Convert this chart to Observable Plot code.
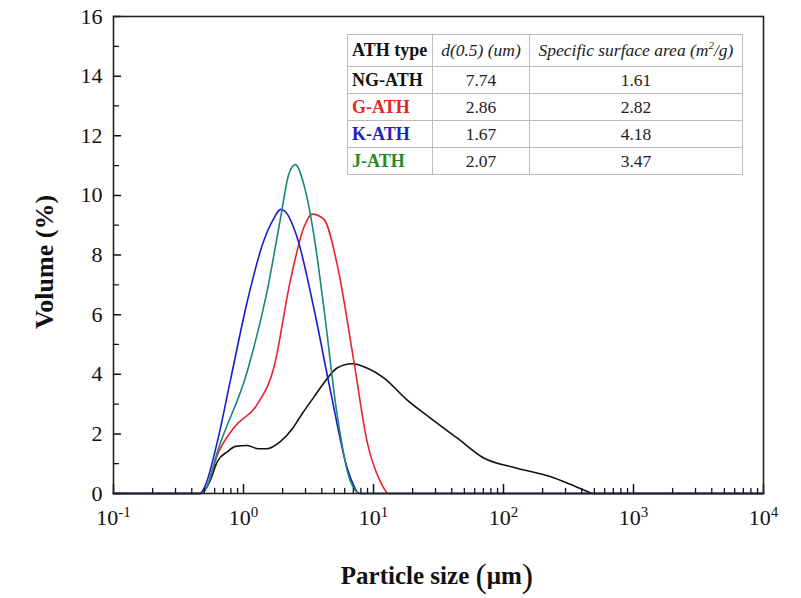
<!DOCTYPE html>
<html>
<head>
<meta charset="utf-8">
<script src="https://cdn.jsdelivr.net/npm/d3@7"></script>
<script src="https://cdn.jsdelivr.net/npm/@observablehq/plot@0.6"></script>
<style>
  html, body { margin: 0; padding: 0; background: #fff; }
  #wrap { position: relative; width: 801px; height: 598px; font-family: "Liberation Serif", "Times New Roman", serif; }
  #tbl { position: absolute; left: 347px; top: 34px; width: 396px; border-collapse: collapse; border: 1.2px solid #666; background: #fff; font-size: 17.5px; color: #222; table-layout: fixed; }
  #tbl td { border: 1px solid #bbb; text-align: center; padding: 0 3px; height: 26px; white-space: nowrap; overflow: visible; }
  #tbl td.name { text-align: left; padding-left: 4px; font-size: 18px; }
  #tbl tr.head td { height: 31px; }
</style>
</head>
<body>
<div id="wrap"></div>
<script>
// ---- data ----
const sizesNG = [0.1, 0.45, 0.48, 0.55, 0.63, 0.75, 0.87, 1.07, 1.3, 1.5, 1.93, 2.4, 2.85, 3.5, 4.14, 5.25, 6.86, 9, 12, 18, 27.4, 45, 70.5, 127, 229, 330, 414, 490, 10000];
const volNG   = [0, 0, 0.02, 0.4, 1.08, 1.4, 1.58, 1.61, 1.5, 1.5, 1.75, 2.2, 2.7, 3.25, 3.7, 4.21, 4.35, 4.2, 3.88, 3.15, 2.53, 1.83, 1.19, 0.85, 0.57, 0.3, 0.12, 0, 0];

const sizesG = [0.1, 0.47, 0.52, 0.63, 0.84, 1.27, 1.71, 2.29, 2.91, 3.37, 4.15, 5.25, 7.06, 8.92, 11.3, 13.1, 10000];
const volG   = [0, 0, 0.2, 1.3, 2.2, 2.98, 4.21, 7.13, 8.92, 9.37, 9.2, 7.69, 4.44, 1.75, 0.4, 0, 0];

const sizesK = [0.1, 0.46, 0.5, 0.63, 0.79, 1.07, 1.43, 1.7, 1.93, 2.1, 2.59, 3.47, 4.67, 6.28, 7.0, 7.5, 8, 10000];
const volK   = [0, 0, 0.2, 1.75, 3.76, 6.45, 8.47, 9.2, 9.53, 9.45, 8.58, 6.23, 3.43, 0.85, 0.3, 0.05, 0, 0];

const sizesJ = [0.1, 0.47, 0.52, 0.63, 1.07, 1.52, 1.93, 2.23, 2.51, 2.91, 3.47, 4.15, 5.25, 6.65, 7.94, 10000];
const volJ   = [0, 0, 0.2, 1.4, 4.1, 6.79, 9.25, 10.71, 11.03, 10.37, 8.7, 6.23, 2.65, 0.4, 0, 0];

const seriesNames  = ["NG-ATH", "G-ATH", "K-ATH", "J-ATH"];
const seriesColors = ["#111111", "#e8232b", "#1c1ccc", "#17877a"];
const labelColors  = ["#111111", "#e02828", "#2222c0", "#228b22"];
const d50          = ["7.74", "2.86", "1.67", "2.07"];
const ssa          = ["1.61", "2.82", "4.18", "3.47"];

const xMajor = [0.1, 1, 10, 100, 1000, 10000];
const xMinor = [];
for (let e = -1; e < 4; e++) for (let m = 2; m <= 9; m++) xMinor.push(m * Math.pow(10, e));
const yMajor = [0, 2, 4, 6, 8, 10, 12, 14, 16];
const yMinor = [1, 3, 5, 7, 9, 11, 13, 15];

// ---- build table of points ----
const allSizes = [sizesNG, sizesG, sizesK, sizesJ];
const allVols  = [volNG, volG, volK, volJ];
const points = [];
allSizes.forEach((xs, s) => xs.forEach((x, i) => points.push({series: seriesNames[s], size: x, vol: allVols[s][i]})));

const tickShapeX = {draw(ctx, l) { ctx.moveTo(0, 0); ctx.lineTo(0, -l); }};

const plot = Plot.plot({
  width: 801,
  height: 598,
  marginTop: 16,
  marginRight: 38,
  marginBottom: 105,
  marginLeft: 113,
  style: {fontFamily: "Liberation Serif, Times New Roman, serif", fontSize: "22px", color: "#111", background: "#fff"},
  x: {type: "log", domain: [0.1, 10000], range: [113, 763]},
  y: {domain: [0, 16], range: [493, 16]},
  color: {domain: seriesNames, range: seriesColors},
  marks: [
    Plot.axisX(xMajor, {tickSize: 0, tickPadding: 16, tickFormat: d => String(Math.round(Math.log10(d))), fontSize: 22, label: null}),
    Plot.axisY(yMajor, {tickSize: 0, tickPadding: 11, fontSize: 22, label: null}),
    Plot.line(points, {x: "size", y: "vol", z: "series", stroke: "series", strokeWidth: 1.6, curve: "monotone-x"}),
    Plot.vector(xMajor, {x: d => d, y: 0, length: 9, rotate: 0, anchor: "start", shape: tickShapeX, stroke: "#111", strokeWidth: 1.5}),
    Plot.vector(xMinor, {x: d => d, y: 0, length: 5, rotate: 0, anchor: "start", shape: tickShapeX, stroke: "#111", strokeWidth: 1.3}),
    Plot.vector(yMajor, {x: 0.1, y: d => d, length: 7, rotate: 90, anchor: "start", shape: tickShapeX, stroke: "#111", strokeWidth: 1.5}),
    Plot.vector(yMinor, {x: 0.1, y: d => d, length: 5, rotate: 90, anchor: "start", shape: tickShapeX, stroke: "#111", strokeWidth: 1.3}),
    Plot.frame({stroke: "#222", strokeWidth: 1.6})
  ]
});

const wrap = document.getElementById("wrap");
wrap.appendChild(plot);

// superscript exponents on x tick labels
const svg = d3.select(plot);
svg.selectAll('g[aria-label="x-axis tick label"] text').each(function () {
  const exp = this.textContent;
  const t = d3.select(this);
  t.text(null);
  t.append("tspan").text("10");
  t.append("tspan").attr("dy", "-0.55em").attr("font-size", "15px").text(exp);
});

// axis titles
svg.append("text")
  .attr("transform", "translate(53,262) rotate(-90)")
  .attr("text-anchor", "middle")
  .attr("font-weight", "bold")
  .attr("font-size", "26px")
  .attr("fill", "#111")
  .text("Volume (%)");

const xl = svg.append("text")
  .attr("x", 437).attr("y", 584)
  .attr("text-anchor", "middle")
  .attr("font-weight", "bold")
  .attr("font-size", "25px")
  .attr("fill", "#111");
xl.append("tspan").text("Particle size ");
xl.append("tspan").attr("font-size", "34px").attr("font-weight", "normal").attr("dy", "3").text("(");
xl.append("tspan").attr("font-size", "25px").attr("dy", "-3").text("μm");
xl.append("tspan").attr("font-size", "34px").attr("font-weight", "normal").attr("dy", "3").text(")");

// table
const table = document.createElement("table");
table.id = "tbl";
const head = table.insertRow();
head.className = "head";
const h1 = head.insertCell(); h1.className = "name"; h1.innerHTML = "<b style='color:#111'>ATH type</b>"; h1.style.width = "77px";
const h2 = head.insertCell(); h2.innerHTML = "<i>d(0.5) (um)</i>"; h2.style.width = "90px";
const h3 = head.insertCell(); h3.innerHTML = "<i>Specific surface area (m<sup style='font-size:11px'>2</sup>/g)</i>";
seriesNames.forEach((name, i) => {
  const r = table.insertRow();
  const c1 = r.insertCell(); c1.className = "name"; c1.innerHTML = `<b style="color:${labelColors[i]}">${name}</b>`;
  const c2 = r.insertCell(); c2.textContent = d50[i];
  const c3 = r.insertCell(); c3.textContent = ssa[i];
});
wrap.appendChild(table);
</script>
</body>
</html>
